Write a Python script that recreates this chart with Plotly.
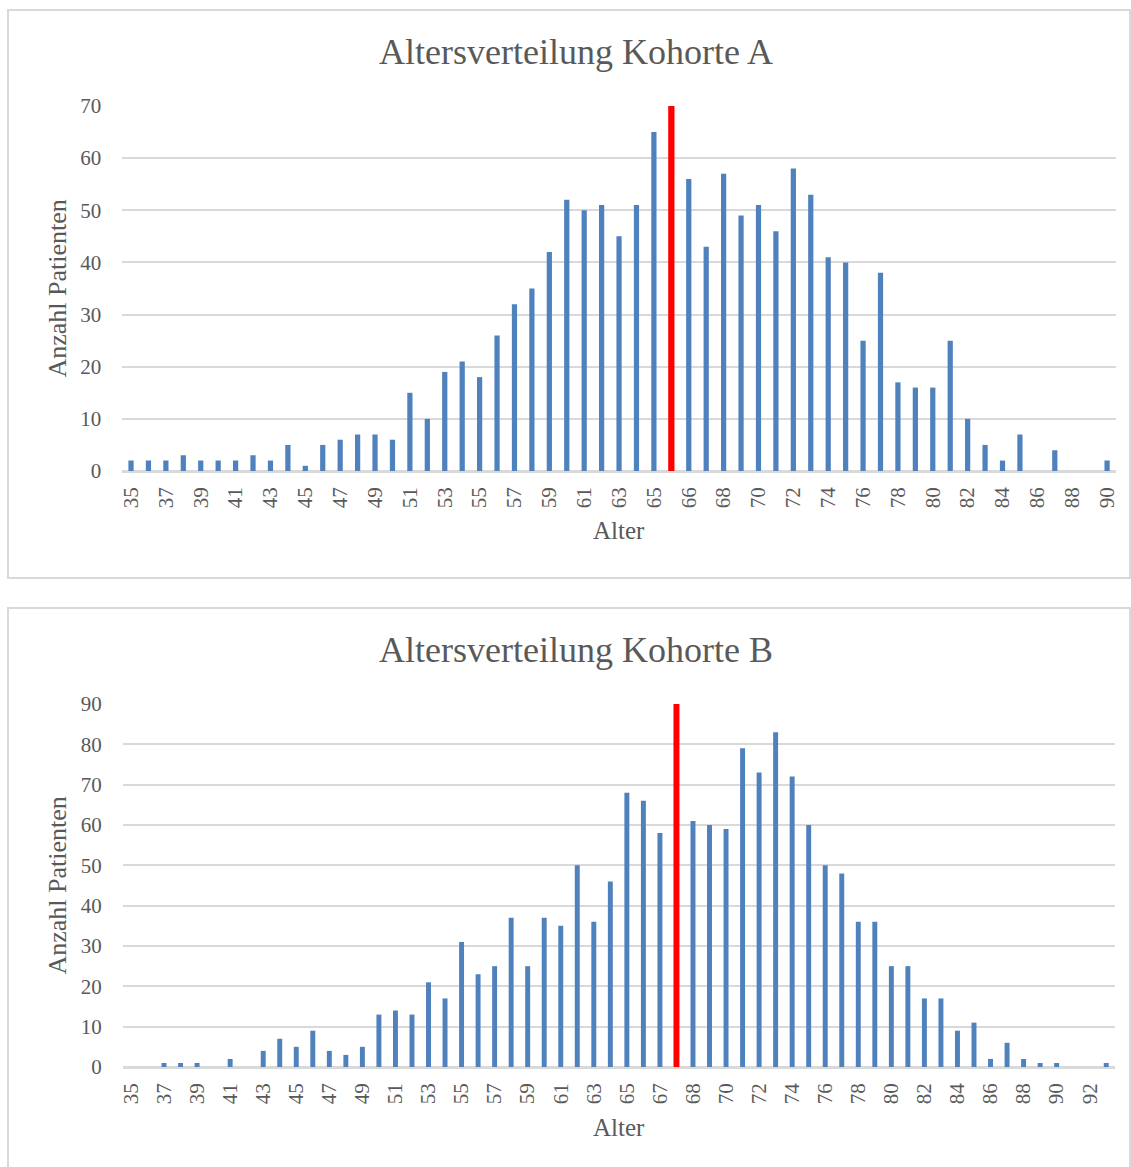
import plotly.graph_objects as go

# Age distribution data (patients per year of age) for two cohorts
ages_a = list(range(35, 91))
counts_a = [2, 2, 2, 3, 2, 2, 2, 3, 2, 5, 1, 5, 6, 7, 7, 6, 15, 10, 19, 21,
            18, 26, 32, 35, 42, 52, 50, 51, 45, 51, 65,
            56, 43, 57, 49, 51, 46, 58, 53, 41, 40, 25, 38, 17, 16, 16, 25,
            10, 5, 2, 7, 0, 4, 0, 0, 2]
median_after_a = 65      # median marker sits between 65 and 66
median_height_a = 70

ages_b = list(range(35, 94))
counts_b = [0, 0, 1, 1, 1, 0, 2, 0, 4, 7, 5, 9, 4, 3, 5, 13, 14, 13, 21, 17,
            31, 23, 25, 37, 25, 37, 35, 50, 36, 46, 68, 66, 58,
            61, 60, 59, 79, 73, 83, 72, 60, 50, 48, 36, 36, 25, 25, 17, 17,
            9, 11, 2, 6, 2, 1, 1, 0, 0, 1]
median_after_b = 67      # median marker sits between 67 and 68
median_height_b = 90

titles = ["Altersverteilung Kohorte A", "Altersverteilung Kohorte B"]
x_title = "Alter"
y_title = "Anzahl Patienten"

W, H = 1131, 1167
FONT = "Liberation Serif"
TXT = "#595959"
GRID = "#d9d9d9"
BLUE = "#4f81bd"
RED = "#ff0000"
MED = "Median"


def px_x(p):
    return p / W


def px_y(p):
    return 1 - p / H


def build_categories(ages, median_after):
    cats, ticks = [], []
    for a in ages:
        cats.append(str(a))
        if a == median_after:
            cats.append(MED)
    # every second category carries a label (the marker slot stays blank)
    for i, c in enumerate(cats):
        if i % 2 == 0 and c != MED:
            ticks.append(c)
    return cats, ticks


fig = go.Figure()

panels = [
    dict(ages=ages_a, counts=counts_a, med=median_after_a, mh=median_height_a,
         ymax=70, box=(8, 10, 1130, 578), plot=(122.3, 106, 1115.8, 471),
         title_y=52, xt_y=531),
    dict(ages=ages_b, counts=counts_b, med=median_after_b, mh=median_height_b,
         ymax=90, box=(8, 608, 1130, 1175), plot=(122.7, 704, 1114.5, 1067),
         title_y=650, xt_y=1127),
]

shapes, annotations = [], []
for k, p in enumerate(panels):
    cats, ticks = build_categories(p["ages"], p["med"])
    xa = "x" if k == 0 else "x2"
    ya = "y" if k == 0 else "y2"
    fig.add_trace(go.Bar(
        x=[str(a) for a in p["ages"]], y=p["counts"], xaxis=xa, yaxis=ya,
        marker=dict(color=BLUE, line=dict(width=0)), width=0.3,
        showlegend=False, hoverinfo="x+y"))
    fig.add_trace(go.Bar(
        x=[MED], y=[p["mh"]], xaxis=xa, yaxis=ya,
        marker=dict(color=RED, line=dict(width=0)), width=0.36,
        showlegend=False, hoverinfo="y"))

    x0, y0, x1, y1 = p["plot"]
    key = "" if k == 0 else "2"
    fig.update_layout(**{
        "xaxis" + key: dict(
            domain=[px_x(x0), px_x(x1)], anchor=ya, automargin=False,
            type="category", categoryorder="array", categoryarray=cats,
            tickmode="array", tickvals=ticks, ticktext=ticks,
            tickangle=-90, ticks="", showgrid=False,
            showline=True, linecolor=GRID, linewidth=1.5,
            tickfont=dict(family=FONT, size=21, color=TXT),
            ticklabelstandoff=6, fixedrange=True),
        "yaxis" + key: dict(
            domain=[px_y(y1), px_y(y0)], anchor=xa, automargin=False,
            range=[0, p["ymax"]], dtick=10, tick0=0,
            showgrid=True, gridcolor=GRID, gridwidth=1.5,
            zeroline=True, zerolinecolor=GRID, zerolinewidth=1.5,
            showline=False, ticks="",
            tickfont=dict(family=FONT, size=21, color=TXT),
            ticklabelstandoff=20, fixedrange=True),
    })

    bx0, by0, bx1, by1 = p["box"]
    shapes.append(dict(type="rect", xref="paper", yref="paper",
                       x0=px_x(bx0), x1=px_x(bx1), y0=px_y(by1), y1=px_y(by0),
                       line=dict(color=GRID, width=2), fillcolor="rgba(0,0,0,0)",
                       layer="below"))
    annotations.append(dict(text=titles[k], xref="paper", yref="paper",
                            x=px_x(575.5), y=px_y(p["title_y"]),
                            xanchor="center", yanchor="middle", showarrow=False,
                            font=dict(family=FONT, size=36, color=TXT)))
    annotations.append(dict(text=x_title, xref="paper", yref="paper",
                            x=px_x((x0 + x1) / 2), y=px_y(p["xt_y"]),
                            xanchor="center", yanchor="middle", showarrow=False,
                            font=dict(family=FONT, size=25, color=TXT)))
    annotations.append(dict(text=y_title, xref="paper", yref="paper",
                            x=px_x(57), y=px_y((y0 + y1) / 2),
                            xanchor="center", yanchor="middle", showarrow=False,
                            textangle=-90,
                            font=dict(family=FONT, size=26, color=TXT)))

fig.update_layout(
    template="none",
    width=W, height=H, margin=dict(l=0, r=0, t=0, b=0, pad=0, autoexpand=False),
    paper_bgcolor="white", plot_bgcolor="white", showlegend=False,
    barmode="overlay", shapes=shapes, annotations=annotations,
)

fig.write_html("out.html")
